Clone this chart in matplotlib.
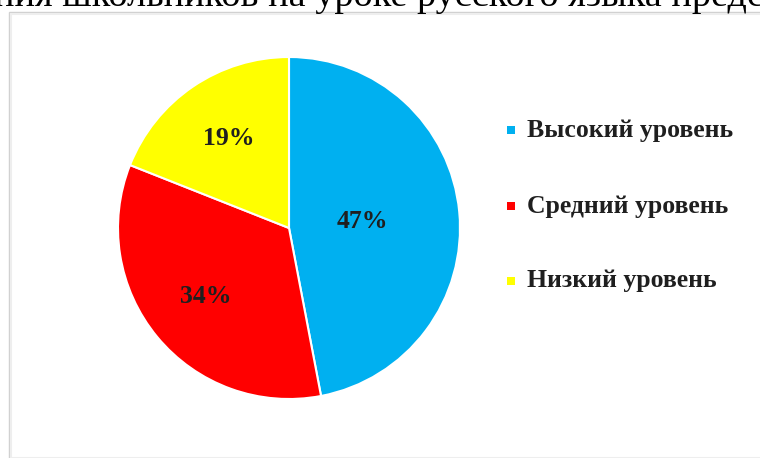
import matplotlib
matplotlib.use("Agg")
import matplotlib.pyplot as plt
import numpy as np
from matplotlib.patches import Rectangle

categories = ["Высокий уровень", "Средний уровень", "Низкий уровень"]
values = [47, 34, 19]
colors = ["#00B0F0", "#FF0000", "#FFFF00"]
title_text = "ния школьников на уроке русского языка предс"

W, H = 760, 458
fig = plt.figure(figsize=(W / 100, H / 100), dpi=100)
fig.patch.set_facecolor("white")

# chart frame
fig.patches.append(Rectangle((9 / W, 0), 1.0, (H - 12) / H, transform=fig.transFigure,
                             fill=False, edgecolor="#D0D0D0", linewidth=1.0))
fig.patches.append(Rectangle((11 / W, 0), 1.0, (H - 14) / H, transform=fig.transFigure,
                             fill=False, edgecolor="#EEEEEE", linewidth=1.5))

# partially visible title above the chart frame
fig.text(-6 / W, (H - 6) / H, title_text, fontsize=27.5, family="Liberation Serif",
         color="#000000", ha="left", va="baseline")

cx, cy, r = 289, 228, 171
ax = fig.add_axes([(cx - r) / W, (H - cy - r) / H, 2 * r / W, 2 * r / H])
wedges, _ = ax.pie(values, colors=colors, startangle=90, counterclock=False,
                   wedgeprops=dict(edgecolor="white", linewidth=1.5))
ax.set_aspect("equal")
ax.set_xlim(-1, 1)
ax.set_ylim(-1, 1)

dists = [0.43, 0.63, 0.63]
for w, v, d in zip(wedges, values, dists):
    ang = np.deg2rad((w.theta1 + w.theta2) / 2)
    ax.text(d * np.cos(ang), d * np.sin(ang), f"{v}%", ha="center", va="center",
            fontsize=18.5, fontweight="bold", family="Liberation Serif", color="#1F1F1F")

# legend
leg_y = [130, 206, 281]
for name, col, y in zip(categories, colors, leg_y):
    fig.patches.append(Rectangle((507 / W, (H - y - 4) / H), 8 / W, 8 / H,
                                 transform=fig.transFigure, facecolor=col, edgecolor="none"))
    fig.text(527 / W, (H - y) / H, name, fontsize=18.5, fontweight="bold",
             family="Liberation Serif", color="#1F1F1F", ha="left", va="center")

fig.savefig("out.png", dpi=100, facecolor="white")
